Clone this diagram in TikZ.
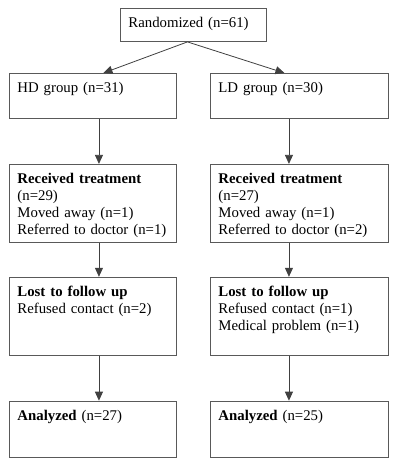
\documentclass[tikz,border=0pt]{standalone}
\usepackage{fontspec}
\setmainfont{Liberation Serif}
\usepackage{tikz}
\usetikzlibrary{positioning,shapes,arrows.meta,calc}

\begin{document}
\begin{tikzpicture}
  [
      every node/.style={font=\fontsize{14.8}{17.2}\selectfont},
      box/.style={rectangle, draw=black!65, line width=0.9pt, anchor=north west, align=left,
                  inner xsep=8pt, inner ysep=7pt, text height=12pt, text width=#1},
      lbox/.style={box=151pt},
      rbox/.style={box=162pt},
      flow/.style={draw=black!75, line width=0.8pt, -{Triangle[length=9pt,width=8pt]}},
    ]

    \useasboundingbox (0,0) rectangle (400pt,-461pt);

    \node (rand) [box=130pt, text depth=7pt] at (120pt,-8pt) {Randomized (n=61)};
    \node (hd) [lbox, text depth=19pt] at (9pt,-73pt) {HD group (n=31)};
    \node (ld) [rbox, text depth=19pt] at (210pt,-73pt) {LD group (n=30)};

    \node (hdrec) [below=45pt of hd.south west, lbox, text depth=52pt]
      {\textbf{Received treatment}\\(n=29)\\Moved away (n=1)\\Referred to doctor (n=1)};
    \node (ldrec) [below=45pt of ld.south west, rbox, text depth=52pt]
      {\textbf{Received treatment}\\(n=27)\\Moved away (n=1)\\Referred to doctor (n=2)};

    \node (hdlost) [below=34pt of hdrec.south west, lbox, text depth=52pt]
      {\textbf{Lost to follow up}\\Refused contact (n=2)};
    \node (ldlost) [below=34pt of ldrec.south west, rbox, text depth=52pt]
      {\textbf{Lost to follow up}\\Refused contact (n=1)\\Medical problem (n=1)};

    \node (hdana) [below=45pt of hdlost.south west, lbox, text depth=30pt]
      {\textbf{Analyzed} (n=27)};
    \node (ldana) [below=45pt of ldlost.south west, rbox, text depth=30pt]
      {\textbf{Analyzed} (n=25)};

    \draw [flow] ([xshift=-6pt]rand.south) -- ([xshift=10.5pt]hd.north);
    \draw [flow] ([xshift=-6pt]rand.south) -- ([xshift=-15pt]ld.north);
    \foreach \i/\j in {hd/hdrec,hdrec/hdlost,hdlost/hdana}
      \draw [flow] ([xshift=6pt]\i.south) -- ([xshift=6pt]\j.north);
    \foreach \i/\j in {ld/ldrec,ldrec/ldlost,ldlost/ldana}
      \draw [flow] ([xshift=-10.5pt]\i.south) -- ([xshift=-10.5pt]\j.north);
  \end{tikzpicture}
\end{document}
